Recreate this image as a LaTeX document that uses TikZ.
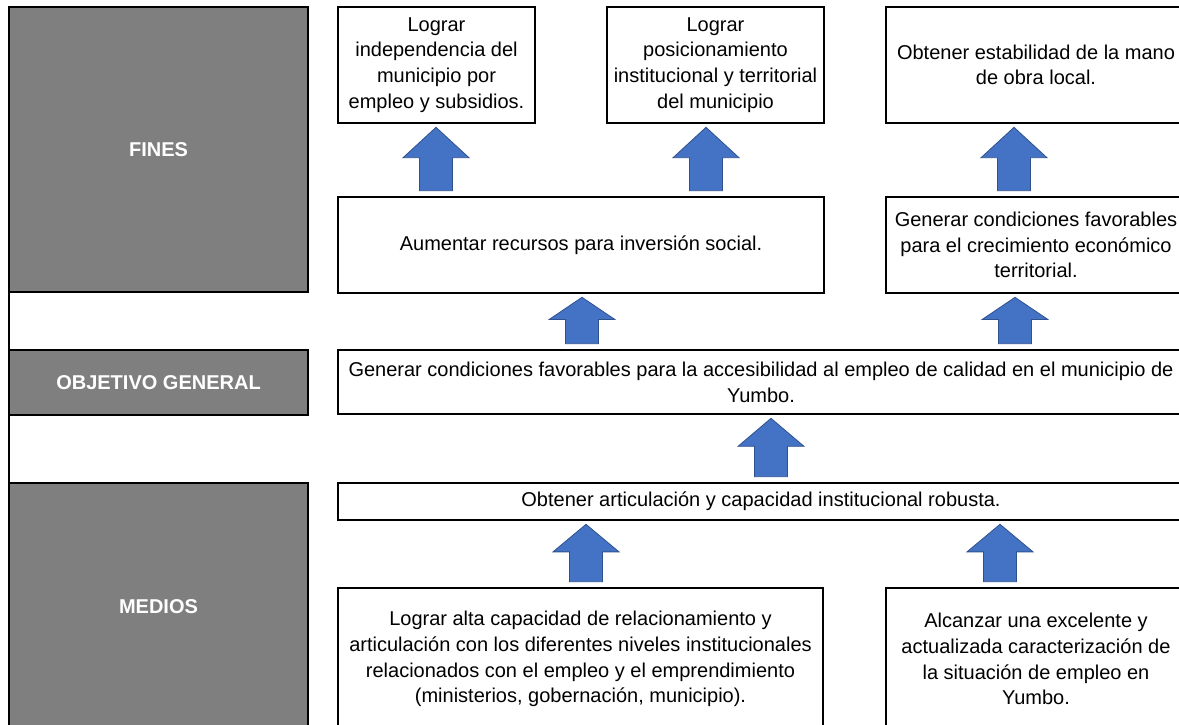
\documentclass[tikz,border=0pt]{standalone}
\usepackage{fontspec}
\setmainfont{Liberation Sans}
\usetikzlibrary{calc}
\definecolor{arrowblue}{HTML}{4472C4}
\definecolor{arrowedge}{HTML}{2F528F}
\definecolor{labelgray}{HTML}{7F7F7F}

% block arrow pointing up, from the top of #2 to the bottom of #3, at x = #1
\newcommand{\upblock}[3]{%
  \draw[block arrow] let \p1=(#2.north), \p2=(#3.south),
      \n1={\y2-3pt}, \n2={\y1+5pt}, \n3={\n1-0.48*(\n1-\n2)} in
    ({#1pt-16.5pt},\n2) -- ({#1pt-16.5pt},\n3) -- ({#1pt-33pt},\n3) -- (#1pt,\n1)
    -- ({#1pt+33pt},\n3) -- ({#1pt+16.5pt},\n3) -- ({#1pt+16.5pt},\n2) -- cycle;}

\begin{document}
\begin{tikzpicture}[x=1pt,y=-1pt,
        box/.style={draw, line width=2.6pt, inner sep=0pt, align=center,
                    font=\fontsize{20}{25.7}\selectfont},
        side label/.style={box, fill=labelgray, text=white,
                    font=\bfseries\fontsize{20}{24}\selectfont},
        block arrow/.style={fill=arrowblue, draw=arrowedge, line width=0.8pt}]
  \useasboundingbox (0,0) rectangle (1179,725);

  % left column
  \draw[line width=2.6pt] (9,7) -- (9,725);
  \node[side label, minimum width=299, minimum height=285] (lblfines)  at (158.5,149.5) {FINES};
  \node[side label, minimum width=299, minimum height=65]  (lblobj)    at (158.5,382.5) {OBJETIVO GENERAL};
  \node[side label, minimum width=299, minimum height=247] (lblmedios) at (158.5,606.5) {MEDIOS};

  % fines
  \node[box, minimum width=197, minimum height=116] (fin1) at (436.5,65)
    {Lograr\\independencia del\\municipio por\\empleo y subsidios.};
  \node[box, minimum width=217, minimum height=116] (fin2) at (715.5,65)
    {Lograr\\posicionamiento\\institucional y territorial\\del municipio};
  \node[box, minimum width=300, minimum height=116] (fin3) at (1036,65)
    {Obtener estabilidad de la mano\\de obra local.};
  \node[box, minimum width=486, minimum height=96]  (fin4) at (581,245)
    {Aumentar recursos para inversi\'on social.};
  \node[box, minimum width=300, minimum height=96]  (fin5) at (1036,245)
    {Generar condiciones favorables\\para el crecimiento econ\'omico\\territorial.};

  % objetivo
  \node[box, minimum width=846, minimum height=64]  (obj)  at (761,382)
    {Generar condiciones favorables para la accesibilidad al empleo de calidad en el municipio de\\Yumbo.};

  % medios
  \node[box, minimum width=846, minimum height=37]  (med1) at (761,501.5)
    {Obtener articulaci\'on y capacidad institucional robusta.};
  \node[box, minimum width=485, minimum height=142] (med2) at (580.5,659)
    {Lograr alta capacidad de relacionamiento y\\articulaci\'on con los diferentes niveles institucionales\\relacionados con el empleo y el emprendimiento\\(ministerios, gobernaci\'on, municipio).};
  \node[box, minimum width=300, minimum height=142] (med3) at (1036,659)
    {Alcanzar una excelente y\\actualizada caracterizaci\'on de\\la situaci\'on de empleo en\\Yumbo.};

  % arrows
  \upblock{436}{fin4}{fin1}
  \upblock{706}{fin4}{fin2}
  \upblock{1014}{fin5}{fin3}
  \upblock{582}{obj}{fin4}
  \upblock{1015}{obj}{fin5}
  \upblock{771}{med1}{obj}
  \upblock{586}{med2}{med1}
  \upblock{1000}{med3}{med1}
\end{tikzpicture}
\end{document}
